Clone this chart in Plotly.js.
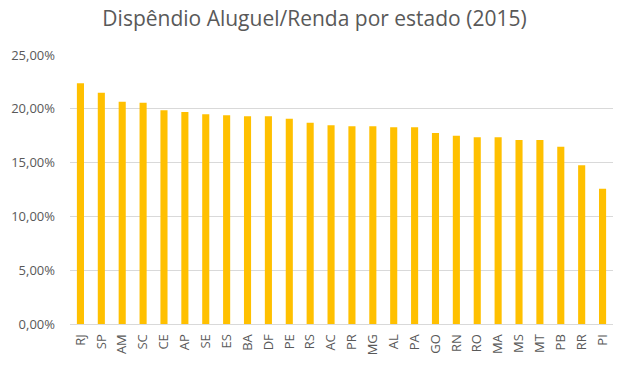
<!DOCTYPE html>
<html>
<head>
<meta charset="utf-8">
<script src="https://cdn.plot.ly/plotly-3.0.1.min.js"></script>
<style>html,body{margin:0;padding:0;background:#fff;}#chart{width:629px;height:366px;}</style>
</head>
<body>
<div id="chart"></div>
<script>
const estados = ["RJ","SP","AM","SC","CE","AP","SE","ES","BA","DF","PE","RS","AC","PR","MG","AL","PA","GO","RN","RO","MA","MS","MT","PB","RR","PI"];
const dispendio = [0.2237,0.2150,0.2066,0.2057,0.1986,0.1970,0.1949,0.1940,0.1930,0.1930,0.1908,0.1871,0.1846,0.1837,0.1837,0.1828,0.1828,0.1775,0.1750,0.1735,0.1735,0.1710,0.1710,0.1648,0.1475,0.1258];
const tituloGrafico = "Dispêndio Aluguel/Renda por estado (2015)";

const font = "Open Sans, Liberation Sans, sans-serif";
Plotly.newPlot("chart", [{
  type: "bar",
  x: estados,
  y: dispendio,
  width: 0.34,
  marker: {color: "#FFC000"},
  hoverinfo: "x+y"
}], {
  width: 629, height: 366,
  margin: {l: 70, r: 16, t: 55, b: 42},
  paper_bgcolor: "#ffffff",
  plot_bgcolor: "#ffffff",
  separators: ",.",
  title: {text: tituloGrafico, x: 0.5, xanchor: "center", y: 0.95, yanchor: "middle", font: {family: font, size: 21, color: "#595959"}},
  xaxis: {
    type: "category",
    tickangle: -90,
    tickfont: {family: font, size: 13, color: "#595959"},
    showline: true, linecolor: "#d9d9d9", linewidth: 1,
    showgrid: false, ticks: "", ticklabelstandoff: 4
  },
  yaxis: {
    range: [0, 0.25],
    dtick: 0.05,
    tickformat: ".2%",
    tickfont: {family: font, size: 13, color: "#595959"},
    gridcolor: "#d9d9d9", gridwidth: 1,
    zeroline: false, showline: false, ticks: "",
    ticklabelstandoff: 14
  },
  showlegend: false
}, {displayModeBar: false, staticPlot: true});
</script>
</body>
</html>
